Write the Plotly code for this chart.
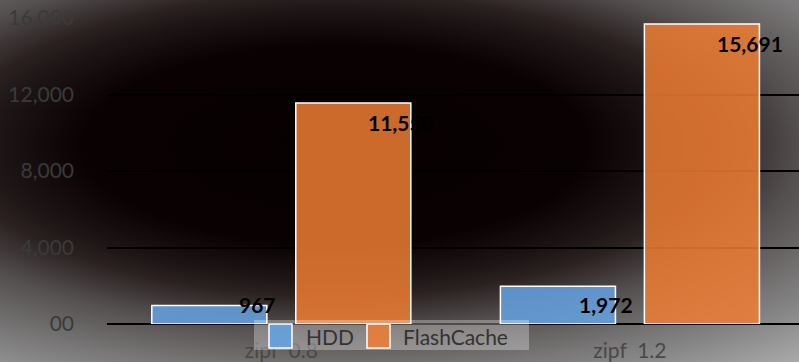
import base64
import plotly.graph_objects as go

# ---- data ----
categories = ["zipf  0.8", "zipf  1.2"]
hdd_values = [967, 1972]
flash_values = [11558, 15691]
hdd_labels = ["967", "1,972"]
flash_labels = ["11,558", "15,691"]
series_names = ["HDD", "FlashCache"]
y_tickvals = [0, 4000, 8000, 12000, 16000]
y_ticktext = ["00", "4,000", "8,000", "12,000", "16,000"]

W, H = 799, 362
ML, MR, MT, MB = 107, 0, 18, 38
PW, PH = W - ML - MR, H - MT - MB

FONT = "Lato, Open Sans, sans-serif"
BLUE = "rgba(100,162,226,0.85)"
ORANGE = "rgba(238,124,52,0.85)"

# background radial gradient as svg image
svg = f'''<svg xmlns="http://www.w3.org/2000/svg" width="{W}" height="{H}" viewBox="0 0 {W} {H}">
<defs><radialGradient id="g" gradientUnits="userSpaceOnUse" cx="335" cy="145" r="720"
 gradientTransform="translate(335,145) scale(1,0.396) translate(-335,-145)">
<stop offset="0" stop-color="#070000"/>
<stop offset="0.35" stop-color="#0a0202"/>
<stop offset="0.48" stop-color="#1f1717"/>
<stop offset="0.53" stop-color="#2b2121"/>
<stop offset="0.65" stop-color="#555050"/>
<stop offset="0.80" stop-color="#7a7878"/>
<stop offset="0.88" stop-color="#8c8c8c"/>
<stop offset="1" stop-color="#aaaaaa"/>
</radialGradient></defs>
<rect width="{W}" height="{H}" fill="url(#g)"/></svg>'''
src = "data:image/svg+xml;base64," + base64.b64encode(svg.encode()).decode()

fig = go.Figure()
fig.add_trace(go.Bar(x=categories, y=hdd_values, name=series_names[0],
                     marker=dict(color=BLUE, line=dict(color="white", width=1.5)),
                     showlegend=False, hoverinfo="skip"))
fig.add_trace(go.Bar(x=categories, y=flash_values, name=series_names[1],
                     marker=dict(color=ORANGE, line=dict(color="white", width=1.5)),
                     showlegend=False, hoverinfo="skip"))

# data labels
px_per_unit = PH / 16000.0
ann = []
for i, c in enumerate(categories):
    for vals, labs, off in ((hdd_values, hdd_labels, -0.2066), (flash_values, flash_labels, 0.2066)):
        v = vals[i]
        ypos = max(v - 20 / px_per_unit, 1020)
        ann.append(dict(x=i + off, y=ypos, xref="x", yref="y", text=labs[i],
                        showarrow=False, xshift=48, xanchor="center", yanchor="middle",
                        font=dict(family=FONT, size=21, color="black", weight="bold")))

# legend (manual)
def px2x(px):
    return (px - ML) / PW

def py2y(py):
    return (H - MB - py) / PH

shapes = [
    dict(type="rect", xref="paper", yref="paper", x0=px2x(254), x1=px2x(529), y0=py2y(350), y1=py2y(320),
         fillcolor="rgba(255,255,255,0.3)", line=dict(width=0), layer="above"),
    dict(type="rect", xref="paper", yref="paper", x0=px2x(269), x1=px2x(292), y0=py2y(348), y1=py2y(324),
         fillcolor=BLUE, line=dict(color="white", width=1.5), layer="above"),
    dict(type="rect", xref="paper", yref="paper", x0=px2x(367), x1=px2x(390), y0=py2y(348), y1=py2y(324),
         fillcolor=ORANGE, line=dict(color="white", width=1.5), layer="above"),
]
ann.append(dict(x=px2x(304), y=py2y(336), xref="paper", yref="paper", text=series_names[0],
                showarrow=False, xanchor="left", yanchor="middle",
                font=dict(family=FONT, size=21, color="#333333")))
ann.append(dict(x=px2x(401), y=py2y(336), xref="paper", yref="paper", text=series_names[1],
                showarrow=False, xanchor="left", yanchor="middle",
                font=dict(family=FONT, size=21, color="#333333")))

fig.update_layout(
    width=W, height=H,
    margin=dict(l=ML, r=MR, t=MT, b=MB, pad=0),
    paper_bgcolor="rgba(0,0,0,0)", plot_bgcolor="rgba(0,0,0,0)",
    barmode="group", bargap=0.174, bargroupgap=0.201,
    images=[dict(source=src, xref="paper", yref="paper", x=-ML / PW, y=1 + MT / PH,
                 sizex=W / PW, sizey=H / PH, xanchor="left", yanchor="top",
                 sizing="stretch", layer="below")],
    shapes=shapes, annotations=ann,
    xaxis=dict(range=[-0.5, 1.485], showgrid=False, zeroline=False, showline=False,
               ticks="", tickfont=dict(family=FONT, size=21, color="#484848"),
               ticklabelstandoff=12, fixedrange=True),
    yaxis=dict(range=[0, 16000], tickvals=y_tickvals, ticktext=y_ticktext,
               showgrid=True, gridcolor="black", gridwidth=2, zeroline=True,
               zerolinecolor="black", zerolinewidth=2, showline=False, ticks="",
               tickfont=dict(family=FONT, size=21, color="#3a3a3a"),
               ticklabelstandoff=32, fixedrange=True),
    showlegend=False,
)

fig.write_html("out.html")
